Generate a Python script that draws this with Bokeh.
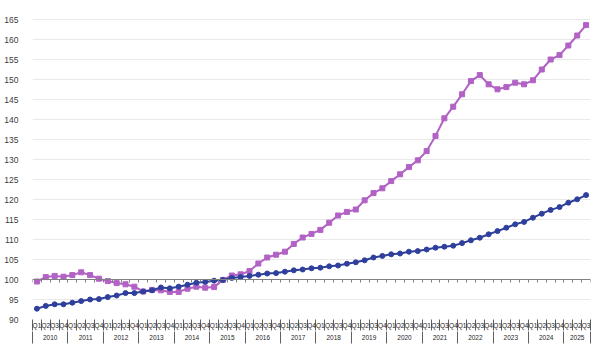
from bokeh.plotting import figure
from bokeh.models import Range1d, LinearAxis, FixedTicker, ColumnDataSource
from bokeh.embed import file_html
from bokeh.resources import INLINE

# ---- data ----
years = ["2010", "2011", "2012", "2013", "2014", "2015", "2016", "2017",
         "2018", "2019", "2020", "2021", "2022", "2023", "2024", "2025"]
quarters = ["Q1", "Q2", "Q3", "Q4"]
y_ticks = [90, 95, 100, 105, 110, 115, 120, 125, 130, 135, 140, 145, 150, 155, 160, 165]

series_purple = [
    99.5, 100.6, 100.9, 100.7, 101.1, 101.8, 101.1, 100.2,
    99.6, 99.1, 98.8, 98.2, 97.0, 97.4, 97.3, 96.9,
    96.9, 97.7, 98.2, 97.95, 98.1, 99.9, 101.0, 101.3,
    102.1, 104.0, 105.5, 106.2, 106.95, 108.9, 110.5, 111.4,
    112.4, 114.2, 116.0, 116.9, 117.5, 119.8, 121.6, 122.8,
    124.6, 126.3, 128.1, 129.8, 132.1, 135.9, 140.3, 143.2,
    146.3, 149.6, 151.1, 148.8, 147.55, 148.1, 149.2, 148.8,
    149.8, 152.5, 155.0, 156.1, 158.5, 161.0, 163.6,
]
series_blue = [
    92.7, 93.4, 93.8, 93.8, 94.2, 94.6, 95.0, 95.1,
    95.6, 96.0, 96.6, 96.6, 97.0, 97.3, 98.0, 97.8,
    98.2, 98.7, 99.2, 99.4, 99.7, 99.9, 100.4, 100.6,
    100.9, 101.2, 101.5, 101.6, 101.95, 102.3, 102.5, 102.8,
    102.95, 103.3, 103.5, 103.95, 104.3, 104.8, 105.5, 105.9,
    106.3, 106.5, 106.95, 107.1, 107.5, 107.95, 108.2, 108.45,
    109.1, 109.8, 110.45, 111.3, 112.1, 112.95, 113.8, 114.4,
    115.45, 116.45, 117.4, 118.1, 119.2, 120.05, 121.1,
]

PURPLE = "#b262c4"
BLUE = "#2f3f9c"
FONT = "Liberation Sans"

n = len(series_blue)
idx = list(range(n))
src = ColumnDataSource(dict(x=idx, purple=series_purple, blue=series_blue))

p = figure(width=600, height=354, output_backend="svg", toolbar_location=None,
           x_range=Range1d(-0.5, n - 0.5), y_range=Range1d(90, 167),
           min_border_left=32, min_border_right=10, min_border_top=11,
           min_border_bottom=35)
p.outline_line_color = None
p.background_fill_color = "white"
p.border_fill_color = "white"

# y axis
p.yaxis.ticker = FixedTicker(ticks=y_ticks)
p.yaxis.axis_line_color = None
p.yaxis.major_tick_line_color = None
p.yaxis.minor_tick_line_color = None
p.yaxis.major_label_standoff = 8
p.yaxis.major_label_text_font = FONT
p.yaxis.major_label_text_font_size = "8.5px"
p.yaxis.major_label_text_color = "#404040"
p.ygrid.grid_line_color = "#e9e9e9"
p.xgrid.visible = False

# quarter axis (default)
qa = p.xaxis[0]
qa.ticker = FixedTicker(ticks=idx, minor_ticks=[i - 0.5 for i in range(n + 1)])
qa.major_label_overrides = {i: quarters[i % 4] for i in idx}
qa.major_tick_line_color = None
qa.major_tick_out = 0
qa.major_tick_in = 0
qa.minor_tick_line_color = "#606060"
qa.minor_tick_out = 11
qa.minor_tick_in = 0
qa.axis_line_color = None
qa.major_label_standoff = -9
qa.major_label_text_font = FONT
qa.major_label_text_font_size = "6.5px"
qa.major_label_text_color = "#1a1a1a"

# year axis (half-quarter units so that centres are integers)
p.extra_x_ranges = {"half": Range1d(-1, 2 * n - 1)}
year_centres = []
year_bounds = []
for k, yr in enumerate(years):
    first = 4 * k
    last = min(4 * k + 3, n - 1)
    year_centres.append(first + last)
    year_bounds.append(2 * first - 1)
year_bounds.append(2 * n - 1)
ya = LinearAxis(x_range_name="half",
                ticker=FixedTicker(ticks=year_centres, minor_ticks=year_bounds))
ya.major_label_overrides = {c: years[k] for k, c in enumerate(year_centres)}
ya.major_tick_line_color = None
ya.major_tick_out = 0
ya.major_tick_in = 0
ya.minor_tick_line_color = "#606060"
ya.minor_tick_out = 12
ya.minor_tick_in = 0
ya.axis_line_color = None
ya.major_label_standoff = -9
ya.major_label_text_font = FONT
ya.major_label_text_font_size = "6.5px"
ya.major_label_text_color = "#262626"
p.add_layout(ya, "below")

# crossing axis at 100
ca = LinearAxis(fixed_location=100,
                ticker=FixedTicker(ticks=[i - 0.5 for i in range(n + 1)]))
ca.axis_line_color = "#808080"
ca.major_tick_line_color = "#808080"
ca.major_tick_out = 3
ca.major_tick_in = 0
ca.minor_tick_line_color = None
ca.major_label_text_color = None
ca.major_label_text_font_size = "1px"
p.add_layout(ca, "below")

# series
p.line("x", "purple", source=src, line_color=PURPLE, line_width=2)
p.scatter("x", "purple", source=src, marker="square", size=5,
          fill_color=PURPLE, line_color=PURPLE)
p.line("x", "blue", source=src, line_color=BLUE, line_width=2)
p.scatter("x", "blue", source=src, marker="circle", size=5,
          fill_color=BLUE, line_color=BLUE)

open("out.html", "w").write(file_html(p, INLINE))
